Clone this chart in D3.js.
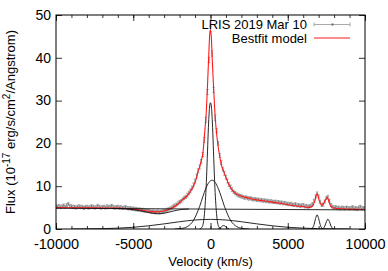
<!DOCTYPE html>
<html>
<head>
<meta charset="utf-8">
<script src="https://d3js.org/d3.v7.min.js"></script>
<style>
  body { margin: 0; background: #fff; }
  svg { display: block; font-family: "Liberation Sans", Arial, sans-serif; }
</style>
</head>
<body>
<svg id="chart" width="388" height="271"></svg>
<script>
// observed spectrum, one value every 100 km/s from -10000 to 10000
const dataFlux = [
  5.3, 5.2, 5.4, 5.1, 5.3, 5.5, 5.2, 5.6, 5.8, 5.4,
  5.3, 5.1, 5.2, 5.0, 5.2, 5.3, 5.1, 5.2, 4.9, 5.1,
  5.2, 5.0, 5.1, 5.3, 5.2, 5.0, 5.1, 5.4, 5.2, 5.0,
  5.1, 5.2, 5.0, 5.3, 5.1, 5.2, 5.4, 5.2, 5.0, 5.1,
  5.2, 5.0, 5.1, 4.9, 5.0, 5.1, 4.9, 4.8, 4.9, 4.7,
  4.8, 4.6, 4.7, 4.5, 4.6, 4.4, 4.5, 4.3, 4.3, 4.2,
  4.2, 4.1, 4.0, 4.1, 3.9, 4.0, 4.1, 3.9, 4.0, 4.1,
  4.2, 4.3, 4.5, 4.6, 4.8, 5.0, 5.3, 5.5, 5.7, 6.0,
  6.3, 6.5, 6.9, 7.2, 7.5, 7.9, 8.4, 8.9, 9.6, 10.3,
  11.2, 12.4, 13.6, 14.5, 15.8, 17.4, 20.8, 25.5, 32.0, 39.5,
  46.8,
  41.0, 32.5, 26.0, 23.0, 20.0, 17.2, 15.5, 14.0, 13.0, 12.1,
  11.2, 10.4, 9.8, 9.2, 8.7, 8.4, 8.1, 7.9, 7.7, 7.6,
  7.5, 7.3, 7.4, 7.2, 7.1, 7.2, 7.0, 6.9, 7.0, 6.8,
  6.9, 6.7, 6.8, 6.6, 6.7, 6.5, 6.6, 6.4, 6.5, 6.4,
  6.3, 6.4, 6.2, 6.3, 6.1, 6.2, 6.0, 6.1, 5.9, 5.9,
  5.8, 5.9, 5.7, 5.6, 5.8, 5.5, 5.6, 5.4, 5.5, 5.6,
  5.3, 5.4, 5.2, 5.3, 5.5, 5.8, 6.6, 7.6, 8.3, 7.6,
  6.4, 5.6, 5.7, 6.4, 7.2, 7.5, 6.6, 5.6, 5.2, 5.0,
  5.1, 4.9, 5.0, 4.8, 5.0, 4.9, 4.8, 5.0, 4.9, 4.8,
  4.9, 5.1, 4.8, 4.9, 4.7, 5.0, 5.2, 4.8, 4.9, 4.7
];
const dataVel = d3.range(-10000, 10001, 100);
// error bar size by velocity range [from, to, err]
const errTable = [
  [-10000, -1500, 0.35], [-1500, -400, 0.45], [-400, 400, 0.6],
  [400, 1500, 0.45], [1500, 10001, 0.35]
];

// best fit model
const modelVel = [-10000, -9000, -8000, -7000, -6000, -5500, -5000, -4500, -4000, -3500,
  -3000, -2700, -2400, -2100, -1800, -1500, -1300, -1100, -900, -800, -700, -600, -500,
  -400, -330, -280, -200, -120, -50, 0, 50, 120, 200, 280, 350, 450, 550, 700, 850, 1000,
  1200, 1500, 1900, 2500, 3000, 3800, 4500, 5100, 5800, 6400, 6600, 6750, 6900, 7050, 7200,
  7350, 7550, 7700, 7850, 8200, 9000, 10000];
const modelFlux = [5.0, 4.98, 4.95, 4.92, 4.88, 4.8, 4.65, 4.4, 4.15, 4.0,
  4.2, 4.6, 5.1, 5.8, 6.9, 7.8, 8.8, 10.0, 12.0, 13.5, 14.5, 16.0, 17.5,
  21.5, 24.5, 27.0, 33.0, 40.0, 45.5, 46.5, 45.0, 39.0, 33.0, 27.5, 24.0, 20.5, 18.0, 15.0, 13.5, 12.0,
  10.3, 8.7, 7.8, 7.2, 6.8, 6.4, 6.0, 5.6, 5.3, 5.05, 5.3, 6.5, 8.2, 6.5, 5.5,
  6.2, 7.4, 6.0, 5.0, 4.8, 4.65, 4.55];

// model components
const contVel = [-10000, 10000];
const contFlux = [4.85, 4.45];
const absVel = [-6400, -5800, -5200, -4600, -4000, -3400, -2900, -2400, -1900, -1400];
const absFlux = [4.78, 4.76, 4.6, 4.3, 3.85, 3.55, 3.75, 4.2, 4.55, 4.66];
const broadVel = [-9000, -8000, -7000, -6000, -5000, -4000, -3000, -2000, -1000, 0,
  1000, 2000, 3000, 4000, 5000, 6000, 7000, 8000, 9000];
const broadFlux = [0.0, 0.03, 0.08, 0.2, 0.4, 0.75, 1.2, 1.7, 2.1, 2.25,
  2.1, 1.7, 1.2, 0.75, 0.4, 0.2, 0.08, 0.03, 0.0];
const interVel = [-2300, -1900, -1700, -1500, -1300, -1100, -900, -700, -500, -300, -100, 100,
  300, 500, 700, 900, 1100, 1300, 1500, 1700, 1900, 2100, 2500];
const interFlux = [0.01, 0.1, 0.25, 0.55, 1.1, 2.0, 3.5, 5.3, 7.5, 9.5, 10.9, 11.4,
  10.9, 9.5, 7.5, 5.3, 3.5, 2.0, 1.1, 0.55, 0.25, 0.1, 0.01];
const narrowVel = [-700, -560, -480, -420, -360, -300, -240, -180, -120, -60, 0,
  60, 120, 180, 240, 300, 360, 420, 480, 560, 700];
const narrowFlux = [0.05, 0.35, 1.1, 2.5, 5.0, 8.5, 13.5, 19.5, 25.0, 28.5, 29.5,
  28.5, 25.0, 19.5, 13.5, 8.5, 5.0, 2.5, 1.1, 0.35, 0.05];
const bumpVel = [500, 600, 700, 800, 850, 900, 1000, 1100, 1200];
const bumpFlux = [0.05, 0.2, 0.48, 0.76, 0.8, 0.76, 0.48, 0.2, 0.05];
const line1Vel = [6500, 6600, 6700, 6800, 6900, 7000, 7100, 7200, 7300];
const line1Flux = [0.03, 0.23, 1.0, 2.45, 3.3, 2.45, 1.0, 0.23, 0.03];
const line2Vel = [7200, 7300, 7400, 7500, 7600, 7700, 7800, 7900, 8000];
const line2Flux = [0.02, 0.16, 0.7, 1.7, 2.3, 1.7, 0.7, 0.16, 0.02];

const xMajor = [-10000, -5000, 0, 5000, 10000];
const xMinor = d3.range(-10000, 10001, 1000);
const yTicks = [0, 10, 20, 30, 40, 50];

const svg = d3.select("#chart");
const margin = {left: 56, right: 23, top: 15, bottom: 42};
const W = +svg.attr("width"), H = +svg.attr("height");
const x = d3.scaleLinear().domain([-10000, 10000]).range([margin.left, W - margin.right]);
const y = d3.scaleLinear().domain([0, 50]).range([H - margin.bottom, margin.top]);

const plot = svg.append("g");
plot.append("clipPath").attr("id", "clip").append("rect")
  .attr("x", x(-10000)).attr("y", y(50))
  .attr("width", x(10000) - x(-10000)).attr("height", y(0) - y(50));
const area = plot.append("g").attr("clip-path", "url(#clip)");

// data with error bars
const pts = dataVel.map((v, i) => {
  const e = errTable.find(r => v >= r[0] && v < r[1])[2];
  return {v: v, f: dataFlux[i], e: e};
});
const grey = "#8c8c8c";
const eb = area.append("g").attr("stroke", grey).attr("stroke-width", 0.8).attr("fill", "none");
eb.selectAll("path").data(pts).join("path")
  .attr("d", d => {
    const px = x(d.v), y1 = y(d.f - d.e), y2 = y(d.f + d.e);
    return `M${px},${y1}V${y2}M${px - 1.2},${y1}H${px + 1.2}M${px - 1.2},${y2}H${px + 1.2}`;
  });
eb.selectAll("rect").data(pts).join("rect")
  .attr("x", d => x(d.v) - 0.5).attr("y", d => y(d.f) - 0.5)
  .attr("width", 1).attr("height", 1).attr("fill", "#666").attr("stroke", "none");

const line = d3.line().x(d => x(d[0])).y(d => y(d[1])).curve(d3.curveMonotoneX);
const pair = (a, b) => a.map((v, i) => [v, b[i]]);

// red model
area.append("path").datum(pair(modelVel, modelFlux))
  .attr("d", line).attr("fill", "none").attr("stroke", "#ff1a1a").attr("stroke-width", 1.1);

// black components
const comps = [
  pair(contVel, contFlux), pair(absVel, absFlux), pair(broadVel, broadFlux),
  pair(interVel, interFlux), pair(narrowVel, narrowFlux), pair(bumpVel, bumpFlux),
  pair(line1Vel, line1Flux), pair(line2Vel, line2Flux)
];
area.selectAll("path.comp").data(comps).join("path").attr("class", "comp")
  .attr("d", line).attr("fill", "none").attr("stroke", "#111").attr("stroke-width", 0.9);

// axes, gnuplot style: ticks inward on all four sides
const fs = "13px", tfs = "14.5px";
const bottom = svg.append("g").attr("transform", `translate(0,${y(0)})`)
  .call(d3.axisBottom(x).tickValues(xMajor).tickSize(-6).tickPadding(10).tickFormat(d3.format("d")));
svg.append("g").attr("transform", `translate(0,${y(0)})`)
  .call(d3.axisBottom(x).tickValues(xMinor).tickSize(-3).tickFormat(""));
svg.append("g").attr("transform", `translate(0,${y(50)})`)
  .call(d3.axisTop(x).tickValues(xMajor).tickSize(-6).tickFormat(""));
svg.append("g").attr("transform", `translate(0,${y(50)})`)
  .call(d3.axisTop(x).tickValues(xMinor).tickSize(-3).tickFormat(""));
const left = svg.append("g").attr("transform", `translate(${x(-10000)},0)`)
  .call(d3.axisLeft(y).tickValues(yTicks).tickSize(-6).tickPadding(5));
svg.append("g").attr("transform", `translate(${x(10000)},0)`)
  .call(d3.axisRight(y).tickValues(yTicks).tickSize(-6).tickFormat(""));
svg.selectAll(".domain").remove();
svg.selectAll(".tick line").attr("stroke", "#000").attr("stroke-width", 0.8);
svg.selectAll(".tick text").attr("font-size", tfs).attr("fill", "#000")
  .attr("font-family", "Liberation Sans, Arial, sans-serif");
left.selectAll(".tick text").attr("font-size", "14px").attr("dy", "0.3em");
bottom.selectAll(".tick text").text(d => d < 0 ? "-" + Math.abs(d) : d);

svg.append("rect")
  .attr("x", x(-10000)).attr("y", y(50))
  .attr("width", x(10000) - x(-10000)).attr("height", y(0) - y(50))
  .attr("fill", "none").attr("stroke", "#000").attr("stroke-width", 1);

// axis titles
svg.append("text").attr("x", (x(-10000) + x(10000)) / 2).attr("y", 266)
  .attr("text-anchor", "middle").attr("font-size", fs).text("Velocity (km/s)");
const yt = svg.append("text")
  .attr("transform", `translate(15,${(y(0) + y(50)) / 2}) rotate(-90)`)
  .attr("text-anchor", "middle").attr("font-size", fs);
yt.append("tspan").text("Flux (10");
yt.append("tspan").attr("dy", -5).attr("font-size", "10px").text("-17");
yt.append("tspan").attr("dy", 5).text(" erg/s/cm");
yt.append("tspan").attr("dy", -5).attr("font-size", "10px").text("2");
yt.append("tspan").attr("dy", 5).text("/Angstrom)");

// legend
const lg = svg.append("g");
lg.append("text").attr("x", 307).attr("y", 29).attr("text-anchor", "end")
  .attr("font-size", fs).text("LRIS 2019 Mar 10");
lg.append("text").attr("x", 307).attr("y", 42.5).attr("text-anchor", "end")
  .attr("font-size", fs).text("Bestfit model");
lg.append("path").attr("d", "M314,24.5H350M314,22.5V26.5M350,22.5V26.5")
  .attr("stroke", "#a0a0a0").attr("stroke-width", 0.9).attr("fill", "none");
lg.append("rect").attr("x", 331.5).attr("y", 23.5).attr("width", 2).attr("height", 2).attr("fill", "#666");
lg.append("line").attr("x1", 314).attr("x2", 350).attr("y1", 38).attr("y2", 38)
  .attr("stroke", "#ff1a1a").attr("stroke-width", 1.1);
</script>
</body>
</html>
